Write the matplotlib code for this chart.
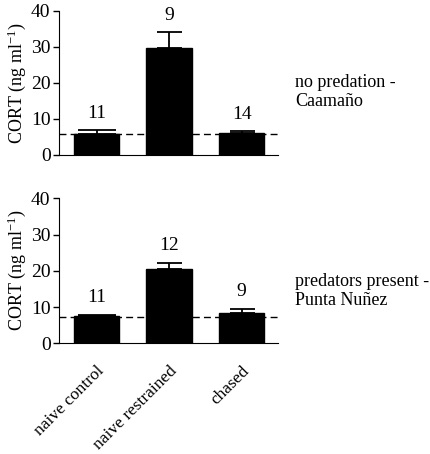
import matplotlib.pyplot as plt

plt.rcParams['font.family'] = ['Liberation Serif', 'DejaVu Serif']
plt.rcParams['mathtext.fontset'] = 'custom'
plt.rcParams['mathtext.rm'] = 'Liberation Serif'
plt.rcParams['mathtext.it'] = 'Liberation Serif:italic'
plt.rcParams['font.size'] = 12

groups = ['naive control', 'naive restrained', 'chased']
sites = ['no predation -\nCaamaño', 'predators present -\nPunta Nuñez']
means = [[5.8, 29.6, 6.2], [7.5, 20.5, 8.3]]
sems = [[1.2, 4.5, 0.5], [0.4, 1.7, 1.3]]
ns = [[11, 9, 14], [11, 12, 9]]
baseline = [5.7, 7.2]

fig = plt.figure(figsize=(4.3, 4.54), dpi=100)
boxes = [[0.137, 0.6586, 0.509, 0.3172], [0.137, 0.2438, 0.509, 0.3194]]
site_y = [0.435, 0.36]
capsizes = [14, 9, 9]

for i, box in enumerate(boxes):
    ax = fig.add_axes(box)
    x = range(len(groups))
    ax.bar(x, means[i], width=0.63, color='black', edgecolor='black', zorder=2)
    for j in x:
        ax.errorbar(j, means[i][j], yerr=[[0], [sems[i][j]]], fmt='none',
                    ecolor='black', elinewidth=1.3, capsize=capsizes[j],
                    capthick=1.3, zorder=3)
        ax.text(j, means[i][j] + sems[i][j] + 2.3, str(ns[i][j]),
                ha='center', va='bottom', fontsize=14)
    ax.axhline(baseline[i], color='black', lw=1, ls=(0, (5, 3)), zorder=1)
    ax.set_xlim(-0.52, 2.5)
    ax.set_ylim(0, 40)
    ax.set_yticks([0, 10, 20, 30, 40])
    ax.tick_params(axis='y', labelsize=14, length=4, width=1, pad=2)
    ax.spines['top'].set_visible(False)
    ax.spines['right'].set_visible(False)
    ax.set_ylabel('CORT (ng ml$^{-1}$)', fontsize=13, labelpad=2)
    ax.text(1.078, site_y[i], sites[i], transform=ax.transAxes, fontsize=13,
            ha='left', va='center', linespacing=1.15)
    ax.set_xticks(list(x))
    if i == 1:
        ax.set_xticklabels(groups, rotation=45, ha='right',
                           rotation_mode='anchor', fontsize=12.5)
        ax.tick_params(axis='x', length=0, pad=14)
    else:
        ax.set_xticklabels([])
        ax.tick_params(axis='x', length=0)

fig.savefig('out.png', dpi=100)
